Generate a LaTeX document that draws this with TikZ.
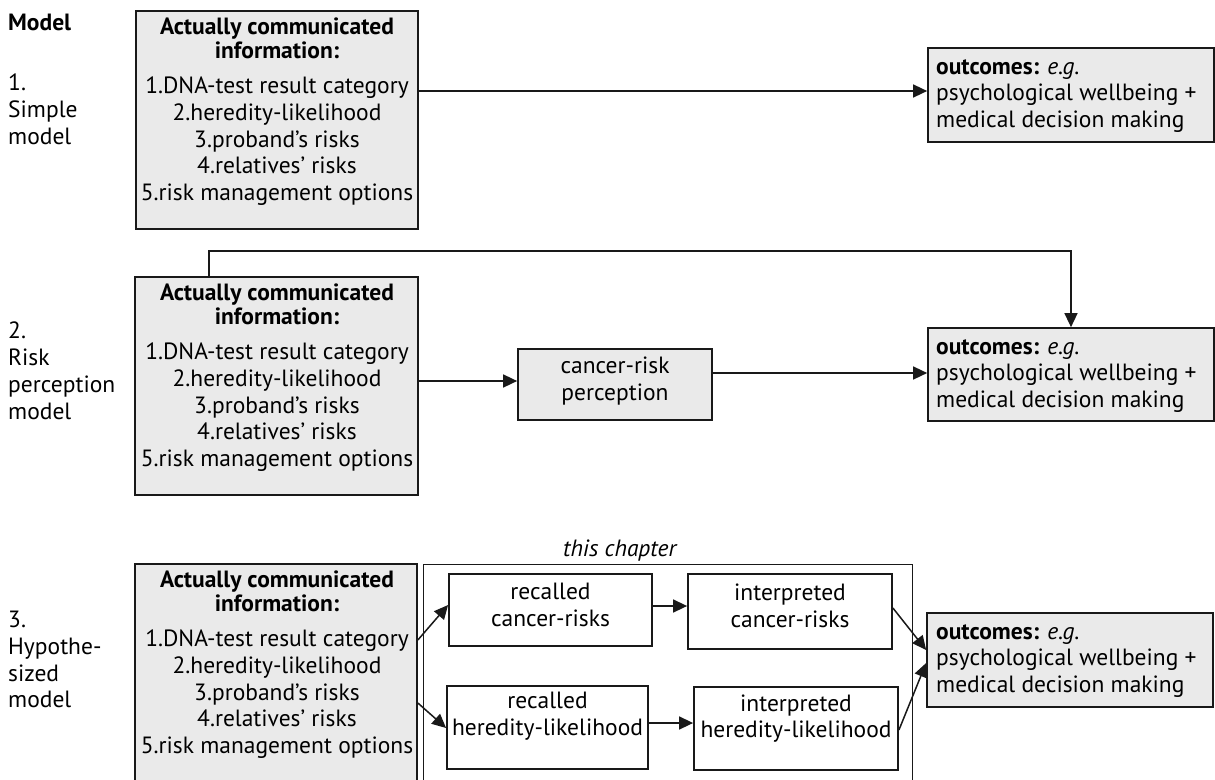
\documentclass[tikz,border=0pt]{standalone}
\usepackage{fontspec}
\setmainfont{PT Sans}
\usetikzlibrary{arrows.meta,calc}
\definecolor{boxgray}{RGB}{234,234,234}
\definecolor{ink}{RGB}{25,25,25}
\begin{document}
\begin{tikzpicture}[x=1pt,y=-1pt]
\tikzset{
 gbox/.style={draw=ink, fill=boxgray, line width=1.7pt, inner sep=0pt},
 wbox/.style={draw=ink, fill=white, line width=1.8pt, inner sep=0pt},
 txt/.style={inner sep=0pt, font=\fontsize{23.5}{26.7}\selectfont, text=black},
 ctxt/.style={txt, align=center},
 ltxt/.style={txt, align=left},
 arr/.style={draw=ink, line width=1.5pt, -{Triangle[length=14pt,width=13pt]}},
}
\path[use as bounding box] (0,0) rectangle (1215,779);
\clip (0,0) rectangle (1215,779);
\fill[white] (0,0) rectangle (1215,779);

% model labels
\node[ltxt, anchor=north west] (m0) at (8,14) {\textbf{Model}};
\node[ltxt, anchor=north west] (m1) at (8,74) {1.\\Simple\\model};
\node[ltxt, anchor=north west] (m2) at (8,322) {2.\\Risk\\perception\\model};
\node[ltxt, anchor=north west] (m3) at (8,611) {3.\\Hypothe-\\sized\\model};

% info boxes
\node[gbox, minimum width=282pt, minimum height=218pt] (i1) at (277,120) {};
\node[gbox, minimum width=283pt, minimum height=218pt] (i2) at (276.5,386) {};
\node[gbox, minimum width=282pt, minimum height=218pt] (i3) at (276,673) {};
\foreach \n/\y in {i1t/18, i2t/284, i3t/571}{
  \node[ctxt, anchor=north] (\n) at (277,\y) {\textbf{Actually communicated}\\[-3pt]\textbf{information:}\\[8.3pt]1.DNA-test result category\\2.heredity-likelihood\\3.proband’s risks\\4.relatives’ risks\\5.risk management options};
}

% outcomes
\node[gbox, minimum width=286pt, minimum height=94pt] (o1) at (1071,95) {};
\node[gbox, minimum width=286pt, minimum height=93pt] (o2) at (1071,374.5) {};
\node[gbox, minimum width=286pt, minimum height=94pt] (o3) at (1070,660) {};
\foreach \n/\y in {o1t/59, o2t/339, o3t/624}{
  \node[ltxt, anchor=north west] (\n) at (936,\y) {\textbf{outcomes:} \textit{e.g.}\\psychological wellbeing +\\medical decision making};
}

% cancer-risk perception
\node[gbox, minimum width=194pt, minimum height=71pt] (c) at (615,384.5) {};
\node[ctxt] (ct) at (615,381) {cancer-risk\\perception};

% this chapter
\node[draw=ink, line width=1.3pt, minimum width=489pt, minimum height=240pt, anchor=north west, inner sep=0pt] (ch) at (423,564) {};
\node[txt, anchor=west, font=\fontsize{23.5}{26.7}\selectfont\itshape] (cht) at (563,551) {this chapter};

\node[wbox, minimum width=203pt, minimum height=72pt] (rc) at (550.5,610) {};
\node[wbox, minimum width=204pt, minimum height=75pt] (ic) at (790,611.5) {};
\node[wbox, minimum width=201pt, minimum height=83pt] (rh) at (547.5,727.5) {};
\node[wbox, minimum width=204pt, minimum height=83pt] (ih) at (796,728.5) {};
\node[ctxt] (rct) at (550.5,605) {recalled\\cancer-risks};
\node[ctxt] (ict) at (790,606) {interpreted\\cancer-risks};
\node[ctxt] (rht) at (547.5,716.5) {recalled\\heredity-likelihood};
\node[ctxt] (iht) at (796,718.5) {interpreted\\heredity-likelihood};

% connectors
\coordinate (a1) at (0,91);
\draw[arr] (i1.east |- a1) -- (o1.west |- a1);
\coordinate (fb) at (209,251);
\draw[arr] (i2.north -| fb) -- (fb) -| (o2.north);
\coordinate (a2) at (0,381);
\draw[arr] (i2.east |- a2) -- (c.west |- a2);
\coordinate (a3) at (0,373);
\draw[arr] (c.east |- a3) -- (o2.west |- a3);
\coordinate (b1) at (0,640); \coordinate (b2) at (0,605);
\draw[arr] (i3.east |- b1) -- (rc.west |- b2);
\coordinate (b3) at (0,703); \coordinate (b4) at (0,728);
\draw[arr] (i3.east |- b3) -- (rh.west |- b4);
\coordinate (b5) at (0,606);
\draw[arr] (rc.east |- b5) -- (ic.west |- b5);
\coordinate (b6) at (0,723);
\draw[arr] (rh.east |- b6) -- (ih.west |- b6);
\coordinate (b7) at (0,608); \coordinate (b8) at (0,650);
\draw[arr] (ic.east |- b7) -- (o3.west |- b8);
\coordinate (b9) at (0,730); \coordinate (b10) at (0,663);
\draw[arr] (ih.east |- b9) -- (o3.west |- b10);
\end{tikzpicture}
\end{document}
